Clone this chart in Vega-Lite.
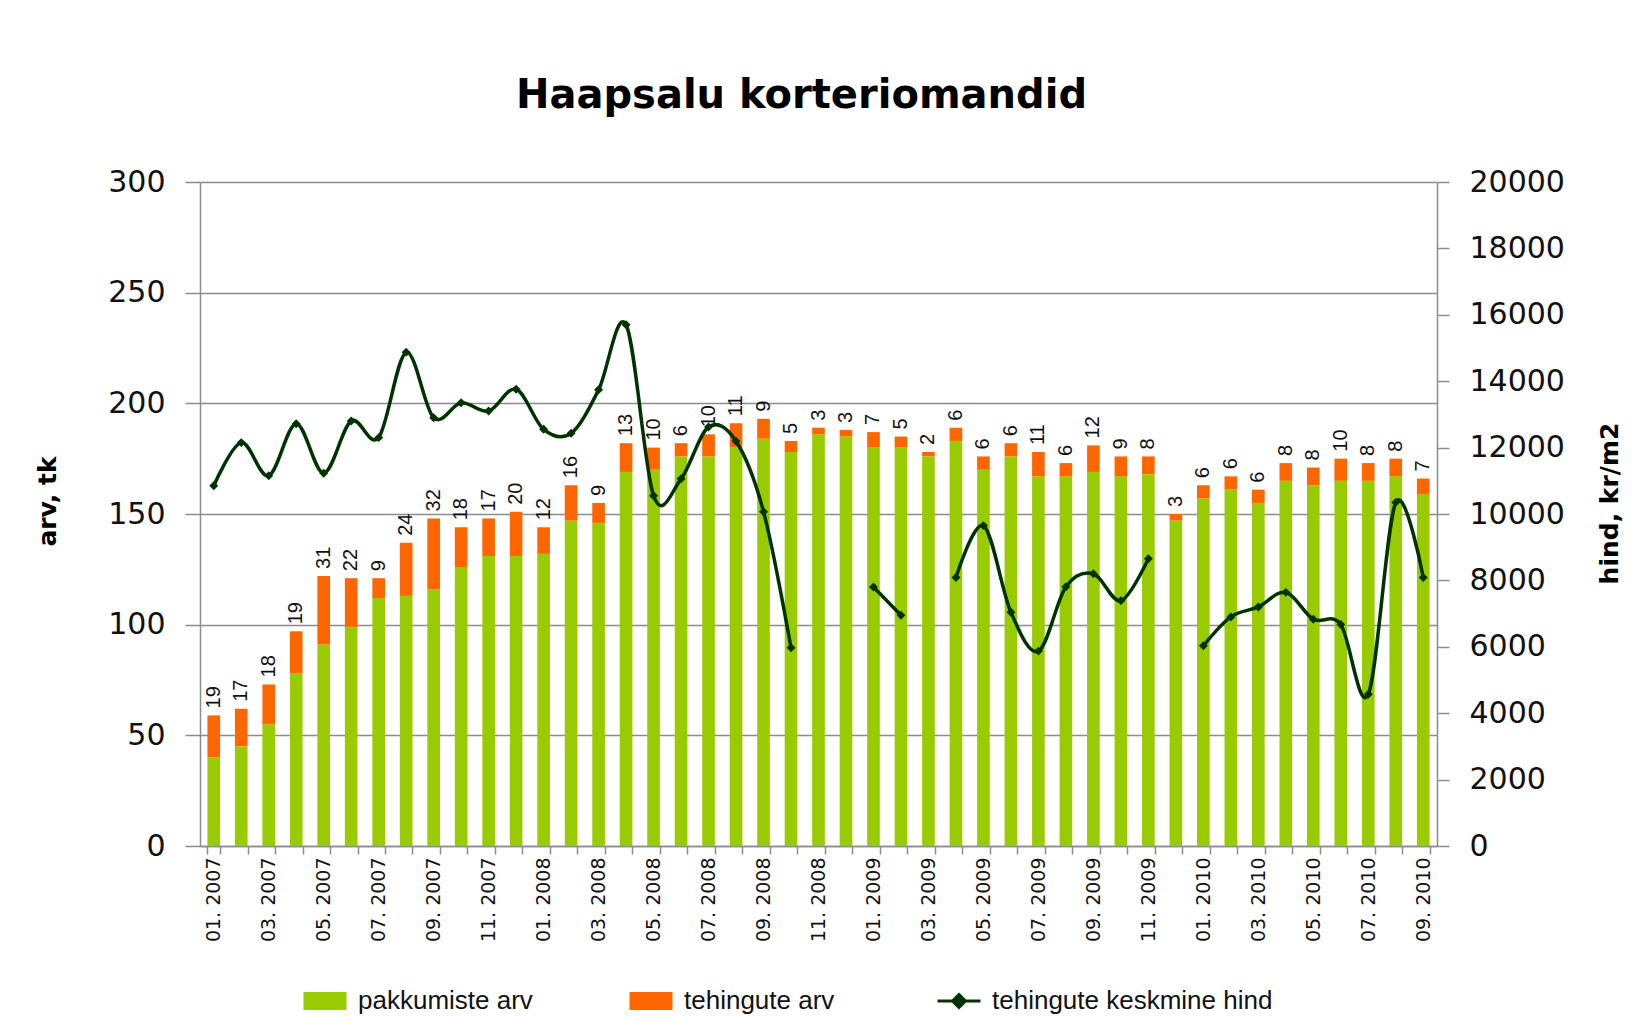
{
  "$schema": "https://vega.github.io/schema/vega-lite/v6.json",
  "width": 1237,
  "height": 664,
  "autosize": {"type": "none"},
  "padding": {"left": 200, "top": 182, "right": 213, "bottom": 173},
  "background": "white",
  "title": {
    "text": "Haapsalu korteriomandid",
    "font": "DejaVu Sans",
    "fontSize": 40,
    "fontWeight": "bold",
    "color": "#000000",
    "frame": "group",
    "anchor": "middle",
    "baseline": "alphabetic",
    "offset": 19,
    "dx": -17
  },
  "data": {
    "values": [
      {"m": "01. 2007", "pakkumiste arv": 40, "tehingute arv": 19, "hind": 10850},
      {"m": "02. 2007", "pakkumiste arv": 45, "tehingute arv": 17, "hind": 12150},
      {"m": "03. 2007", "pakkumiste arv": 55, "tehingute arv": 18, "hind": 11150},
      {"m": "04. 2007", "pakkumiste arv": 78, "tehingute arv": 19, "hind": 12720},
      {"m": "05. 2007", "pakkumiste arv": 91, "tehingute arv": 31, "hind": 11230},
      {"m": "06. 2007", "pakkumiste arv": 99, "tehingute arv": 22, "hind": 12800},
      {"m": "07. 2007", "pakkumiste arv": 112, "tehingute arv": 9, "hind": 12300},
      {"m": "08. 2007", "pakkumiste arv": 113, "tehingute arv": 24, "hind": 14870},
      {"m": "09. 2007", "pakkumiste arv": 116, "tehingute arv": 32, "hind": 12900},
      {"m": "10. 2007", "pakkumiste arv": 126, "tehingute arv": 18, "hind": 13350},
      {"m": "11. 2007", "pakkumiste arv": 131, "tehingute arv": 17, "hind": 13100},
      {"m": "12. 2007", "pakkumiste arv": 131, "tehingute arv": 20, "hind": 13760},
      {"m": "01. 2008", "pakkumiste arv": 132, "tehingute arv": 12, "hind": 12550},
      {"m": "02. 2008", "pakkumiste arv": 147, "tehingute arv": 16, "hind": 12430},
      {"m": "03. 2008", "pakkumiste arv": 146, "tehingute arv": 9, "hind": 13740},
      {"m": "04. 2008", "pakkumiste arv": 169, "tehingute arv": 13, "hind": 15700},
      {"m": "05. 2008", "pakkumiste arv": 170, "tehingute arv": 10, "hind": 10550},
      {"m": "06. 2008", "pakkumiste arv": 176, "tehingute arv": 6, "hind": 11060},
      {"m": "07. 2008", "pakkumiste arv": 176, "tehingute arv": 10, "hind": 12620},
      {"m": "08. 2008", "pakkumiste arv": 180, "tehingute arv": 11, "hind": 12190},
      {"m": "09. 2008", "pakkumiste arv": 184, "tehingute arv": 9, "hind": 10070},
      {"m": "10. 2008", "pakkumiste arv": 178, "tehingute arv": 5, "hind": 5970},
      {"m": "11. 2008", "pakkumiste arv": 186, "tehingute arv": 3, "hind": null},
      {"m": "12. 2008", "pakkumiste arv": 185, "tehingute arv": 3, "hind": null},
      {"m": "01. 2009", "pakkumiste arv": 180, "tehingute arv": 7, "hind": 7800},
      {"m": "02. 2009", "pakkumiste arv": 180, "tehingute arv": 5, "hind": 6950},
      {"m": "03. 2009", "pakkumiste arv": 176, "tehingute arv": 2, "hind": null},
      {"m": "04. 2009", "pakkumiste arv": 183, "tehingute arv": 6, "hind": 8090},
      {"m": "05. 2009", "pakkumiste arv": 170, "tehingute arv": 6, "hind": 9650},
      {"m": "06. 2009", "pakkumiste arv": 176, "tehingute arv": 6, "hind": 7040},
      {"m": "07. 2009", "pakkumiste arv": 167, "tehingute arv": 11, "hind": 5870},
      {"m": "08. 2009", "pakkumiste arv": 167, "tehingute arv": 6, "hind": 7810},
      {"m": "09. 2009", "pakkumiste arv": 169, "tehingute arv": 12, "hind": 8200},
      {"m": "10. 2009", "pakkumiste arv": 167, "tehingute arv": 9, "hind": 7390},
      {"m": "11. 2009", "pakkumiste arv": 168, "tehingute arv": 8, "hind": 8650},
      {"m": "12. 2009", "pakkumiste arv": 147, "tehingute arv": 3, "hind": null},
      {"m": "01. 2010", "pakkumiste arv": 157, "tehingute arv": 6, "hind": 6030},
      {"m": "02. 2010", "pakkumiste arv": 161, "tehingute arv": 6, "hind": 6900},
      {"m": "03. 2010", "pakkumiste arv": 155, "tehingute arv": 6, "hind": 7200},
      {"m": "04. 2010", "pakkumiste arv": 165, "tehingute arv": 8, "hind": 7640},
      {"m": "05. 2010", "pakkumiste arv": 163, "tehingute arv": 8, "hind": 6830},
      {"m": "06. 2010", "pakkumiste arv": 165, "tehingute arv": 10, "hind": 6670},
      {"m": "07. 2010", "pakkumiste arv": 165, "tehingute arv": 8, "hind": 4570},
      {"m": "08. 2010", "pakkumiste arv": 167, "tehingute arv": 8, "hind": 10350},
      {"m": "09. 2010", "pakkumiste arv": 159, "tehingute arv": 7, "hind": 8090}
    ]
  },
  "encoding": {
    "x": {
      "field": "m",
      "type": "nominal",
      "sort": null,
      "title": null,
      "scale": {"paddingInner": 0.54, "paddingOuter": 0.27},
      "axis": {
        "tickBand": "extent",
        "labelAngle": -90,
        "labelExpr": "toNumber(substring(datum.label, 0, 2)) % 2 == 1 ? datum.label : ''",
        "labelFont": "DejaVu Sans",
        "labelFontSize": 19,
        "labelColor": "#111111",
        "labelPadding": 3,
        "tickSize": 8,
        "tickColor": "#8c8c8c",
        "tickWidth": 1.5,
        "domainColor": "#8c8c8c",
        "domainWidth": 1.5,
        "grid": false
      }
    }
  },
  "layer": [
    {
      "transform": [
        {"fold": ["pakkumiste arv", "tehingute arv"], "as": ["key", "value"]},
        {"stack": "value", "groupby": ["m"], "sort": [{"field": "key", "order": "ascending"}], "as": ["v0", "v1"]}
      ],
      "layer": [
        {
          "mark": {"type": "bar"},
          "encoding": {
            "y": {
              "field": "v0",
              "type": "quantitative",
              "title": "arv, tk",
              "scale": {"domain": [0, 300]},
              "axis": {
                "values": [0, 50, 100, 150, 200, 250, 300],
                "grid": true,
                "gridColor": "#8c8c8c",
                "gridWidth": 1.5,
                "domainColor": "#8c8c8c",
                "domainWidth": 1.5,
                "tickColor": "#8c8c8c",
                "tickWidth": 1.5,
                "tickSize": 15,
                "labelPadding": 20,
                "labelFont": "DejaVu Sans",
                "labelFontSize": 30,
                "labelColor": "#111111",
                "titleFont": "DejaVu Sans",
                "titleFontSize": 25,
                "titleFontWeight": "bold",
                "titleColor": "#000000",
                "titlePadding": 47,
                "titleY": 319
              }
            },
            "y2": {"field": "v1"},
            "color": {
              "field": "key",
              "type": "nominal",
              "scale": {
                "domain": ["pakkumiste arv", "tehingute arv", "tehingute keskmine hind"],
                "range": ["#99CC00", "#FF6600", "#003300"]
              },
              "legend": {
                "orient": "none",
                "legendX": 112,
                "legendY": 806,
                "direction": "horizontal",
                "columns": 3,
                "title": null,
                "padding": 0,
                "symbolSize": 1849,
                "labelOffset": 20,
                "columnPadding": 96,
                "labelFont": "Liberation Sans",
                "labelFontSize": 26,
                "labelColor": "#111111",
                "labelLimit": 400,
                "encode": {
                  "symbols": {
                    "update": {
                      "shape": {"signal": "datum.value === 'tehingute keskmine hind' ? 'M-1,0H1M0,-0.3L0.3,0L0,0.3L-0.3,0Z' : 'M-1,-0.42H1V0.42H-1Z'"},
                      "fill": {"scale": "color", "field": "value"},
                      "stroke": {"scale": "color", "field": "value"},
                      "strokeWidth": {"signal": "datum.value === 'tehingute keskmine hind' ? 3 : 0"},
                      "opacity": {"value": 1},
                      "fillOpacity": {"value": 1},
                      "strokeOpacity": {"value": 1}
                    }
                  }
                }
              }
            }
          }
        },
        {
          "transform": [{"filter": "datum.key === 'tehingute arv'"}],
          "mark": {
            "type": "text",
            "angle": 270,
            "align": "left",
            "baseline": "middle",
            "dx": 7,
            "font": "Liberation Sans",
            "fontSize": 20,
            "color": "#111111"
          },
          "encoding": {
            "y": {"field": "v1", "type": "quantitative", "title": "arv, tk"},
            "text": {"field": "value", "type": "quantitative"}
          }
        }
      ]
    },
    {
      "mark": {
        "type": "line",
        "interpolate": "cardinal",
        "strokeWidth": 3.5,
        "invalid": "break-paths-show-domains",
        "point": {"shape": "diamond", "filled": true, "size": 80}
      },
      "encoding": {
        "y": {
          "field": "hind",
          "type": "quantitative",
          "title": "hind, kr/m2",
          "scale": {"domain": [0, 20000]},
          "axis": {
            "orient": "right",
            "values": [0, 2000, 4000, 6000, 8000, 10000, 12000, 14000, 16000, 18000, 20000],
            "format": "d",
            "grid": false,
            "domainColor": "#8c8c8c",
            "domainWidth": 1.5,
            "tickColor": "#8c8c8c",
            "tickWidth": 1.5,
            "tickSize": 12,
            "labelPadding": 20,
            "labelFont": "DejaVu Sans",
            "labelFontSize": 30,
            "labelColor": "#111111",
            "titleFont": "DejaVu Sans",
            "titleFontSize": 25,
            "titleFontWeight": "bold",
            "titleColor": "#000000",
            "titleAngle": 270,
            "titleBaseline": "top",
            "titlePadding": 33,
            "titleY": 321
          }
        },
        "color": {"datum": "tehingute keskmine hind", "type": "nominal"}
      }
    }
  ],
  "resolve": {"scale": {"y": "independent"}},
  "config": {
    "font": "DejaVu Sans",
    "view": {"stroke": null}
  }
}
